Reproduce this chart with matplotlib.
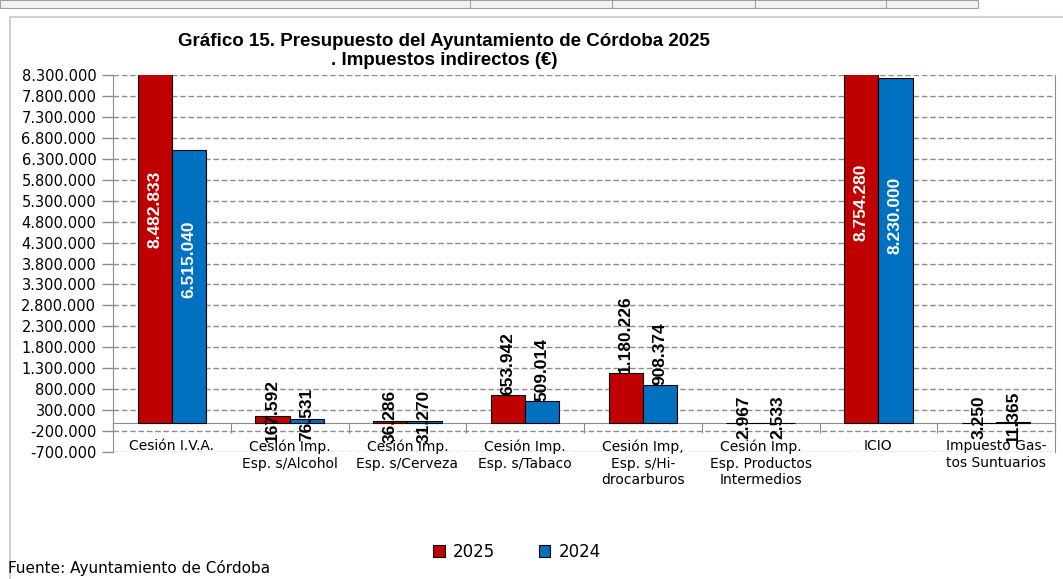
import matplotlib
matplotlib.use("Agg")
import matplotlib.pyplot as plt
from matplotlib.lines import Line2D
import numpy as np

# datos del gráfico
categorias = ["Cesión I.V.A.", "Cesión Imp.\nEsp. s/Alcohol", "Cesión Imp.\nEsp. s/Cerveza",
              "Cesión Imp.\nEsp. s/Tabaco", "Cesión Imp,\nEsp. s/Hi-\ndrocarburos",
              "Cesión Imp.\nEsp. Productos\nIntermedios", "ICIO", "Impuesto Gas-\ntos Suntuarios"]
series = ["2025", "2024"]
valores_2025 = [8482833, 167592, 36286, 653942, 1180226, 2967, 8754280, 3250]
valores_2024 = [6515040, 76531, 31270, 509014, 908374, 2533, 8230000, 11365]
colores = ["#C00000", "#0070C0"]

y_min, y_max, y_paso = -700000, 8300000, 500000
titulo = "Gráfico 15. Presupuesto del Ayuntamiento de Córdoba 2025\n. Impuestos indirectos (€)"
fuente = "Fuente: Ayuntamiento de Córdoba"

estrecha = ["Liberation Sans", "DejaVu Sans"]


def fmt(v):
    return f"{v:,.0f}".replace(",", ".")


fig = plt.figure(figsize=(10.63, 5.79), dpi=100)
ax = fig.add_axes([113 / 1063, 1 - 452 / 579, (1055 - 113) / 1063, (452 - 75) / 579])

x = np.arange(len(categorias))
ancho = 0.29
for i, (vals, col) in enumerate(zip([valores_2025, valores_2024], colores)):
    pos = x + (i - 0.5) * ancho
    ax.bar(pos, vals, width=ancho, color=col, edgecolor="black", linewidth=0.8, zorder=3)
    for p, v in zip(pos, vals):
        if v > 5000000:
            ax.text(p, 0.6 * v, fmt(v), rotation=90, ha="center", va="center", color="white",
                    fontsize=12.5, fontweight="bold", family=estrecha, zorder=5)
        elif v > 300000:
            ax.text(p, v, fmt(v), rotation=90, ha="center", va="bottom", color="black",
                    fontsize=12.5, fontweight="bold", family=estrecha, zorder=5)
        else:
            ax.text(p, v + 120000, fmt(v), rotation=90, ha="center", va="center", color="black",
                    fontsize=12.5, fontweight="bold", family=estrecha, zorder=5)

ax.set_xlim(-0.5, len(categorias) - 0.5)
ax.set_ylim(y_min, y_max)
ax.set_yticks(np.arange(y_min, y_max + 1, y_paso))
ax.set_yticklabels([fmt(t) for t in np.arange(y_min, y_max + 1, y_paso)], fontsize=10.5)
ax.yaxis.grid(True, linestyle=(0, (4, 2)), color="#8C8C8C", linewidth=1, zorder=0)
ax.tick_params(axis="y", length=8, color="#8C8C8C", width=1, pad=4)

# eje de categorías en el cero
ax.spines["bottom"].set_position(("data", 0))
ax.spines["bottom"].set_color("#8C8C8C")
ax.spines["left"].set_color("#8C8C8C")
ax.spines["right"].set_color("#8C8C8C")
ax.spines["top"].set_visible(False)
ax.set_xticks(np.arange(len(categorias) + 1) - 0.5)
ax.set_xticklabels([])
ax.set_xticks(x, minor=True)
ax.set_xticklabels(categorias, minor=True, fontsize=10, linespacing=1.25, va="top")
ax.tick_params(axis="x", which="major", length=7, color="#8C8C8C", direction="out")
ax.tick_params(axis="x", which="minor", length=0, pad=12)

fig.text(444 / 1063, 1 - 51 / 579, titulo, ha="center", va="center", fontsize=13.5,
         fontweight="bold", family=estrecha, linespacing=1.15)

handles = [plt.Rectangle((0, 0), 1, 1, facecolor=c, edgecolor="black", linewidth=0.8) for c in colores]
fig.legend(handles, series, loc="center", bbox_to_anchor=(517 / 1063, 1 - 552 / 579), ncol=2,
           frameon=False, handlelength=0.7, handleheight=0.7, columnspacing=2.6, handletextpad=0.5,
           prop={"size": 12})

fig.text(8 / 1063, 1 - 568 / 579, fuente, ha="left", va="center", fontsize=11)

# borde del área del gráfico y resto de la tabla superior
fig.add_artist(Line2D([10 / 1063, 10 / 1063], [0, 1 - 17 / 579], color="#D0D0D0", linewidth=1.5,
                      transform=fig.transFigure))
fig.add_artist(Line2D([10 / 1063, 1], [1 - 17 / 579, 1 - 17 / 579], color="#D0D0D0", linewidth=1.5,
                      transform=fig.transFigure))
fig.patches.append(plt.Rectangle((0, 1 - 8 / 579), 978 / 1063, 8 / 579, transform=fig.transFigure,
                                 facecolor="#F2F2F2", edgecolor="#A0A0A0", linewidth=0.8))
for xd in [470, 612, 755, 886]:
    fig.add_artist(Line2D([xd / 1063, xd / 1063], [1 - 8 / 579, 1], color="#A0A0A0", linewidth=0.8,
                          transform=fig.transFigure))

fig.savefig("out.png", dpi=100)
